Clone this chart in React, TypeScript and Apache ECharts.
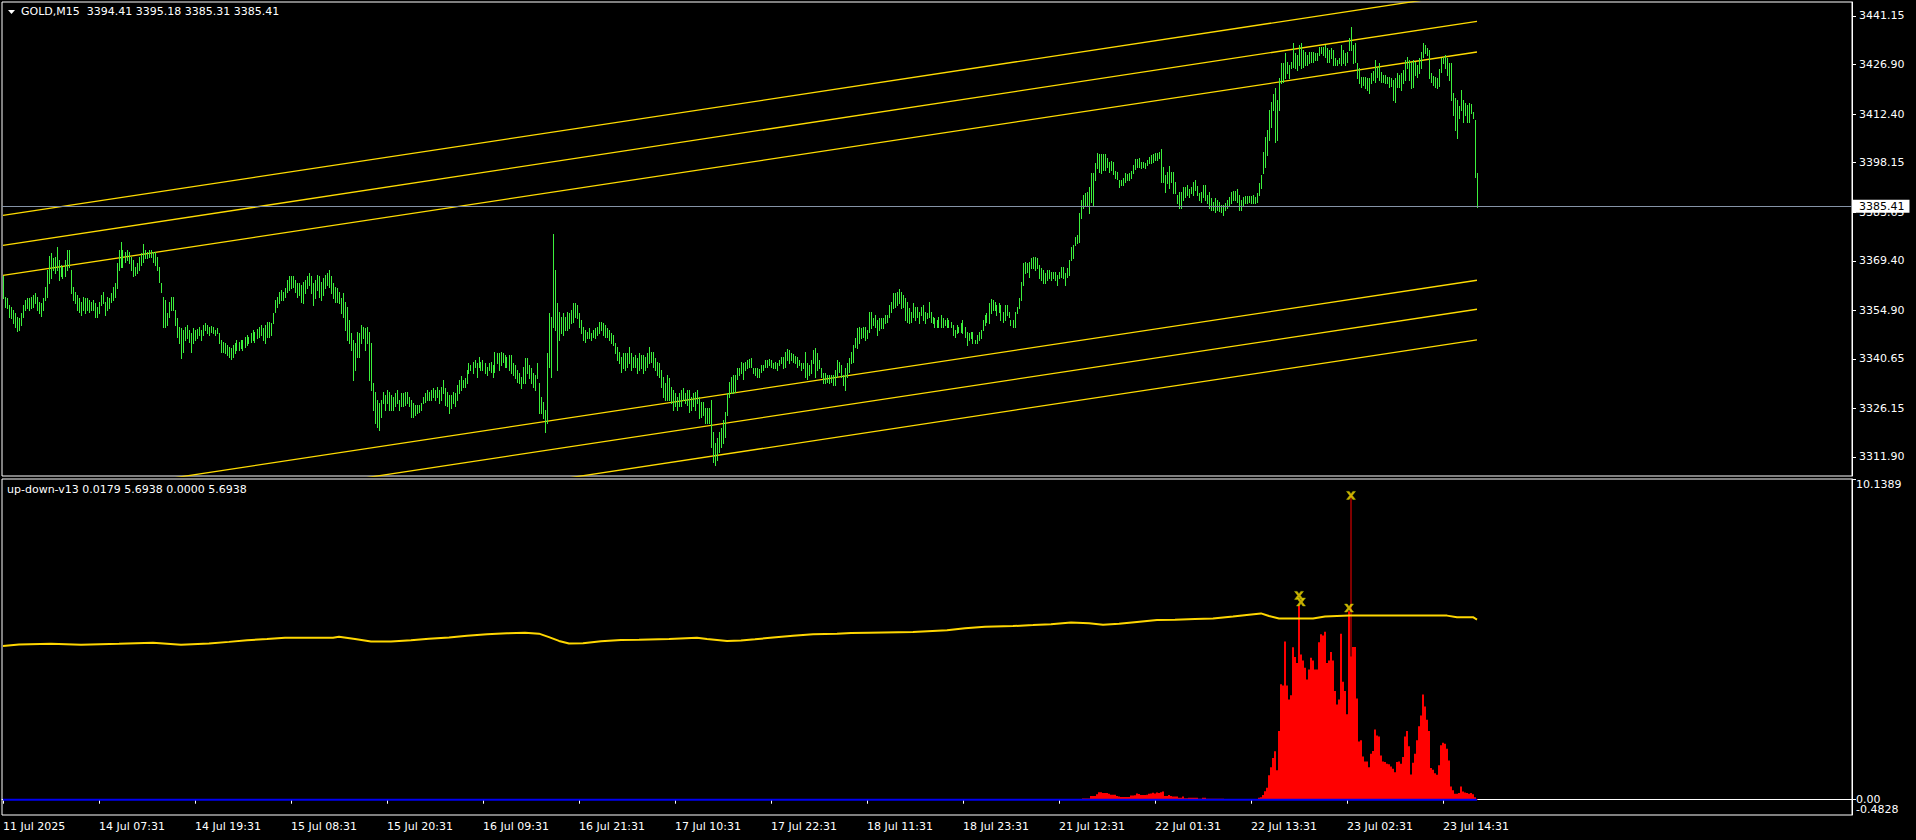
import React, { useEffect, useRef } from 'react';
import * as echarts from 'echarts';

// ---------- header texts ----------
const symbolName = 'GOLD,M15';
const ohlcLast = [3394.41, 3395.18, 3385.31, 3385.41];
const indicatorName = 'up-down-v13';
const indicatorLast = [0.0179, 5.6938, 0.0, 5.6938];

// ---------- time axis ----------
const timeLabels = [
  '11 Jul 2025', '14 Jul 07:31', '14 Jul 19:31', '15 Jul 08:31', '15 Jul 20:31', '16 Jul 09:31',
  '16 Jul 21:31', '17 Jul 10:31', '17 Jul 22:31', '18 Jul 11:31', '18 Jul 23:31', '21 Jul 12:31',
  '22 Jul 01:31', '22 Jul 13:31', '23 Jul 02:31', '23 Jul 14:31',
];
const labelStep = 48; // bars between time labels (M15)
const totalSlots = 925; // bar slots incl. chart shift on the right

// ---------- price bars (M15), high / low ----------
const barHigh = [
  3364.9, 3358.9, 3358.4, 3356.5, 3356.0, 3355.0, 3354.0, 3353.0, 3352.5, 3354.0, 3356.5, 3357.9, 3358.4, 3358.4, 3358.9, 3359.4, 3359.9,
  3358.9, 3357.4, 3356.9, 3358.4, 3361.8, 3366.7, 3370.8, 3371.6, 3370.1, 3370.6, 3373.5, 3369.6, 3368.2, 3367.7, 3369.6, 3372.6, 3372.6,
  3366.7, 3361.8, 3360.4, 3359.4, 3358.4, 3357.4, 3358.9, 3358.4, 3358.4, 3357.9, 3357.4, 3357.9, 3356.9, 3356.0, 3357.4, 3359.4, 3360.4,
  3357.4, 3358.9, 3358.4, 3359.9, 3361.8, 3362.8, 3368.7, 3372.6, 3375.0, 3372.6, 3372.1, 3372.6, 3372.1, 3370.6, 3369.6, 3367.7, 3368.7,
  3370.6, 3371.6, 3374.3, 3372.6, 3372.1, 3372.6, 3372.6, 3372.1, 3372.1, 3370.6, 3367.7, 3362.8, 3358.9, 3357.9, 3354.0, 3357.4, 3358.9,
  3358.9, 3355.0, 3352.5, 3350.1, 3349.6, 3349.1, 3350.1, 3350.6, 3349.1, 3348.2, 3349.6, 3349.1, 3349.3, 3350.1, 3349.1, 3350.6, 3351.1,
  3350.6, 3350.1, 3350.3, 3350.1, 3349.1, 3349.6, 3348.2, 3346.2, 3345.7, 3345.2, 3344.7, 3344.2, 3343.7, 3344.7, 3345.2, 3346.2, 3345.7,
  3346.2, 3346.2, 3347.2, 3347.7, 3347.2, 3348.2, 3349.1, 3348.6, 3349.3, 3350.1, 3350.6, 3349.6, 3350.6, 3351.6, 3351.6, 3351.1, 3354.0,
  3357.9, 3358.9, 3360.4, 3360.9, 3360.4, 3361.3, 3363.8, 3364.8, 3364.8, 3364.8, 3363.8, 3362.8, 3362.8, 3362.3, 3363.3, 3363.8, 3364.8,
  3365.7, 3364.8, 3362.8, 3363.8, 3365.2, 3364.8, 3363.3, 3364.3, 3365.2, 3365.7, 3366.7, 3364.8, 3362.8, 3361.8, 3361.3, 3360.4, 3358.4,
  3359.9, 3357.4, 3356.0, 3352.1, 3348.2, 3346.2, 3345.2, 3348.6, 3348.2, 3350.6, 3350.1, 3349.6, 3350.1, 3348.6, 3345.2, 3333.5, 3331.0, 3328.6, 3327.6, 3328.6,
  3331.0, 3330.1, 3331.5, 3331.0, 3330.1, 3329.6, 3330.6, 3331.5, 3328.6, 3330.6, 3330.6, 3331.0, 3331.0, 3329.6,
  3328.6, 3327.6, 3327.2, 3327.2, 3327.2, 3327.6, 3329.6, 3330.6, 3331.5, 3331.0, 3331.5, 3332.0, 3331.5, 3332.5, 3331.5, 3332.5, 3334.5,
  3332.0, 3331.0, 3330.1, 3330.1, 3331.0, 3330.6, 3333.0, 3334.5, 3335.5, 3334.5, 3335.0, 3337.4, 3339.4, 3338.9, 3339.8, 3340.3, 3339.4,
  3341.3, 3339.8, 3340.3, 3339.4, 3338.4, 3339.4, 3339.8, 3338.9, 3342.8, 3342.3, 3342.3, 3342.8, 3342.3, 3341.8, 3341.3, 3341.8, 3341.8,
  3339.4, 3338.9, 3337.4, 3336.4, 3335.4, 3338.4, 3340.8, 3340.8, 3338.9, 3337.9, 3336.4, 3335.9, 3339.4, 3333.5, 3329.6, 3328.1,
  3325.7, 3342.3, 3354.0, 3353.0, 3377.4, 3366.7, 3356.9, 3354.5, 3353.0, 3354.0, 3353.0, 3354.5, 3354.0, 3355.0, 3356.9, 3356.9, 3356.5, 3354.0,
  3352.1, 3350.1, 3349.1, 3348.6, 3349.6, 3348.2, 3349.1, 3349.6, 3350.1, 3351.6, 3351.6, 3351.1, 3350.6, 3349.6, 3349.1, 3348.2, 3347.7,
  3345.2, 3344.2, 3342.8, 3341.3, 3342.3, 3342.3, 3342.3, 3344.2, 3342.3, 3341.3, 3341.8, 3340.8, 3342.3, 3341.8, 3341.8, 3341.3, 3342.3,
  3344.2, 3342.8, 3342.8, 3340.8, 3339.8, 3339.4, 3337.4, 3335.4, 3333.5, 3335.9, 3335.0, 3332.5, 3331.5, 3330.6, 3329.6, 3330.6, 3331.5,
  3332.0, 3330.6, 3331.5, 3331.5, 3329.6, 3330.6, 3331.0, 3331.5,
  3329.6, 3328.1, 3328.1, 3326.2, 3326.2, 3326.2, 3328.6, 3319.3, 3315.9, 3317.4,
  3319.3, 3320.3, 3322.7, 3325.2, 3330.6, 3334.0, 3335.4, 3335.9, 3335.9, 3337.9,
  3337.9, 3339.8, 3339.4, 3339.8, 3340.3, 3340.5, 3340.8, 3337.9, 3337.9, 3337.9,
  3337.6, 3338.9, 3338.9, 3340.3, 3340.3, 3340.5, 3340.3, 3339.4, 3339.8, 3339.4,
  3340.3, 3341.3, 3341.3, 3342.8, 3343.5, 3343.3, 3342.3, 3342.1, 3341.5, 3341.3,
  3340.3, 3339.5, 3339.4, 3342.8, 3339.4, 3338.9, 3340.3, 3343.3, 3343.7, 3342.3,
  3340.3, 3337.9, 3336.4, 3336.4, 3335.9, 3335.9, 3335.9, 3335.9, 3337.4, 3340.3,
  3339.8, 3338.9, 3335.9, 3337.9, 3339.4, 3340.8, 3342.8, 3344.7, 3346.7, 3349.6,
  3350.1, 3349.6, 3350.1, 3350.1, 3349.1, 3354.5, 3354.5, 3352.5, 3353.5, 3352.1,
  3352.5, 3352.5, 3352.5, 3353.5, 3353.5, 3356.5, 3357.4, 3359.9, 3359.9, 3360.4,
  3361.0, 3360.4, 3359.4, 3358.4, 3357.4, 3355.5, 3354.5, 3356.9, 3356.0, 3356.0,
  3354.5, 3356.0, 3356.5, 3354.5, 3354.0, 3357.4, 3354.5, 3353.0, 3352.5, 3352.1,
  3353.0, 3353.5, 3352.5, 3352.1, 3352.5, 3352.1, 3351.6, 3350.6, 3349.1, 3350.6,
  3350.1, 3351.1, 3352.1, 3350.1, 3348.6, 3348.2, 3348.6, 3348.6, 3346.2, 3347.7,
  3348.6, 3349.1, 3352.1, 3353.5, 3354.0, 3356.9, 3358.1, 3357.9, 3357.4, 3356.5,
  3356.9, 3356.5, 3354.5, 3356.5, 3356.5, 3354.5, 3352.1, 3352.1, 3354.5, 3356.0,
  3358.4, 3363.3, 3368.7, 3369.1, 3368.7, 3369.1, 3370.1, 3370.6, 3370.6, 3370.1,
  3368.2, 3367.2, 3366.7, 3365.7, 3366.7, 3366.7, 3366.2, 3366.2, 3366.2, 3365.2,
  3366.2, 3367.7, 3367.7, 3365.7, 3367.2, 3369.6, 3373.5, 3374.0, 3376.5, 3377.0,
  3383.3, 3387.2, 3388.7, 3389.2, 3389.7, 3391.1, 3395.0, 3395.0, 3398.0, 3401.1,
  3400.7, 3400.7, 3400.7, 3400.7,
  3399.4, 3398.4, 3398.6, 3398.4, 3395.8, 3395.5, 3393.1, 3393.1, 3393.6, 3395.0,
  3394.8, 3395.0, 3395.8, 3397.5, 3399.3, 3399.2, 3399.4, 3398.4, 3398.4, 3398.2,
  3398.9, 3399.9, 3400.4, 3400.7, 3400.9, 3400.9, 3401.4, 3402.1, 3397.0, 3394.5,
  3395.5, 3397.2, 3395.5, 3395.4, 3392.6, 3388.7, 3389.7, 3389.7, 3391.1, 3391.1,
  3391.6, 3390.3, 3391.1, 3392.6, 3393.1, 3391.3, 3389.4, 3389.7, 3391.6, 3391.6,
  3388.7, 3389.7, 3387.7, 3386.7, 3387.7, 3387.2, 3386.7, 3385.8, 3385.8, 3386.2,
  3387.2, 3388.2, 3389.7, 3389.9, 3389.9, 3390.3, 3388.7, 3387.2, 3388.2, 3388.4,
  3388.4, 3388.4, 3388.4, 3388.7, 3388.2, 3389.4, 3392.3, 3394.5, 3401.4, 3405.8,
  3407.7, 3413.6, 3416.0, 3418.3, 3419.9, 3416.5, 3422.9, 3427.3, 3427.3, 3430.2,
  3427.8, 3426.8, 3427.8, 3433.1, 3430.2, 3429.7, 3432.6, 3433.1, 3431.2, 3430.7,
  3429.7, 3430.7, 3430.7, 3430.7, 3430.2, 3430.2, 3432.2, 3432.2, 3432.2, 3432.6,
  3431.7, 3431.2, 3431.7, 3431.2, 3428.7, 3428.3, 3428.7, 3432.6, 3431.2, 3430.2,
  3430.7, 3434.6, 3438.0, 3432.6, 3433.1, 3427.3, 3425.8, 3423.4, 3423.4, 3423.4,
  3422.9, 3422.9, 3424.4, 3425.1, 3428.3, 3426.3, 3427.3, 3424.8, 3423.9, 3423.9,
  3423.4, 3423.4, 3422.9, 3422.4, 3422.9, 3424.4, 3423.9, 3424.4, 3425.3, 3428.3,
  3429.2, 3428.3, 3427.8, 3428.3, 3427.8, 3426.8, 3428.7, 3430.7, 3433.3, 3432.6,
  3431.7, 3431.2, 3424.4, 3423.6, 3423.2, 3422.9, 3425.5, 3428.7, 3429.2, 3429.7,
  3428.7, 3427.3, 3427.3, 3418.5, 3417.0, 3416.5, 3414.8, 3419.5, 3416.5, 3415.6,
  3415.1, 3415.6, 3415.4, 3413.1, 3410.7, 3395.18,
];
const barLow = [
  3358.6, 3356.0, 3355.5, 3353.0, 3352.5, 3351.1, 3350.1, 3348.8, 3349.1, 3350.6, 3353.0, 3355.0, 3355.5, 3355.0, 3355.5, 3356.0, 3356.9,
  3355.0, 3354.0, 3353.2, 3355.0, 3357.9, 3358.9, 3362.8, 3364.3, 3366.7, 3365.7, 3366.7, 3363.8, 3364.8, 3364.3, 3364.8, 3366.7, 3367.7,
  3359.9, 3357.9, 3356.9, 3355.0, 3354.5, 3353.5, 3355.0, 3354.0, 3355.0, 3354.5, 3355.0, 3355.0, 3353.0, 3353.0, 3354.0, 3356.5, 3356.9,
  3353.5, 3355.0, 3355.5, 3357.4, 3357.9, 3358.9, 3361.3, 3366.7, 3367.7, 3367.7, 3369.1, 3369.6, 3368.7, 3366.7, 3364.8, 3365.2, 3365.7,
  3366.7, 3368.2, 3369.1, 3370.1, 3370.1, 3370.6, 3370.6, 3369.1, 3368.2, 3366.7, 3363.3, 3360.4, 3350.1, 3350.1, 3350.6, 3353.0, 3355.0,
  3355.0, 3350.6, 3347.2, 3345.2, 3340.8, 3342.8, 3346.2, 3346.7, 3345.7, 3342.8, 3345.2, 3346.2, 3346.7, 3347.7, 3346.2, 3347.7, 3349.1,
  3348.2, 3347.7, 3348.6, 3348.2, 3347.7, 3348.2, 3345.2, 3342.8, 3342.8, 3342.3, 3341.8, 3341.3, 3340.5, 3341.3, 3342.3, 3343.3, 3343.3,
  3343.8, 3343.3, 3344.2, 3344.7, 3345.2, 3345.7, 3346.2, 3345.7, 3346.7, 3347.2, 3347.7, 3346.2, 3345.2, 3347.2, 3347.2, 3347.7, 3351.1,
  3354.5, 3356.0, 3356.9, 3357.9, 3357.9, 3358.9, 3360.4, 3360.9, 3361.3, 3361.8, 3360.4, 3358.9, 3359.4, 3357.4, 3356.9, 3359.9, 3361.3,
  3362.3, 3359.9, 3356.5, 3358.4, 3360.9, 3358.9, 3357.9, 3359.4, 3361.3, 3362.3, 3361.8, 3359.9, 3358.4, 3357.4, 3357.4, 3356.9, 3354.0,
  3353.0, 3349.1, 3346.2, 3345.2, 3343.3, 3334.5, 3337.4, 3341.3, 3341.3, 3345.2, 3346.7, 3343.3, 3345.2, 3334.5, 3331.5, 3325.7, 3321.8, 3320.8, 3319.8, 3323.7,
  3327.6, 3325.7, 3327.6, 3325.7, 3325.7, 3325.7, 3326.7, 3327.6, 3325.7, 3326.7, 3326.7, 3327.2, 3327.6, 3326.7,
  3323.7, 3323.7, 3324.2, 3324.7, 3325.2, 3325.7, 3327.6, 3328.1, 3328.6, 3328.6, 3328.6, 3329.6, 3328.6, 3329.6, 3327.6, 3328.6, 3330.6,
  3327.2, 3326.7, 3324.7, 3326.2, 3327.6, 3326.7, 3328.6, 3330.6, 3331.5, 3332.5, 3332.5, 3333.5, 3336.4, 3337.4, 3336.4, 3338.4, 3335.4,
  3338.4, 3337.4, 3337.4, 3336.4, 3335.9, 3337.4, 3336.9, 3335.4, 3336.9, 3339.4, 3337.4, 3338.9, 3339.8, 3338.4, 3338.4, 3337.4, 3336.4,
  3335.9, 3335.0, 3334.0, 3333.5, 3332.0, 3333.5, 3333.5, 3336.4, 3335.0, 3333.5, 3332.5, 3331.5, 3335.0, 3324.7, 3324.7, 3323.2,
  3319.3, 3321.8, 3338.4, 3335.4, 3350.1, 3349.1, 3337.4, 3346.2, 3348.2, 3347.7, 3349.1, 3349.1, 3349.6, 3351.1, 3351.6, 3353.0, 3352.5, 3350.1,
  3348.2, 3346.2, 3345.7, 3346.7, 3346.7, 3346.2, 3347.2, 3346.7, 3347.7, 3348.2, 3349.1, 3347.7, 3347.2, 3347.2, 3346.2, 3345.2, 3344.7,
  3342.3, 3340.3, 3339.4, 3336.9, 3337.9, 3337.4, 3338.4, 3339.4, 3337.4, 3338.4, 3338.4, 3336.4, 3337.4, 3337.9, 3336.4, 3337.4, 3338.4,
  3339.4, 3339.8, 3338.4, 3337.4, 3335.9, 3335.4, 3332.5, 3329.6, 3328.6, 3328.6, 3328.6, 3327.6, 3325.7, 3326.7, 3325.7, 3326.7, 3326.7,
  3328.6, 3327.6, 3327.2, 3325.2, 3325.7, 3326.7, 3325.7, 3327.6,
  3323.2, 3323.7, 3324.2, 3321.8, 3321.8, 3321.8, 3314.9, 3310.5, 3309.6, 3311.0,
  3313.5, 3314.9, 3315.9, 3317.9, 3324.2, 3329.6, 3330.6, 3330.6, 3331.0, 3334.9,
  3335.9, 3336.4, 3334.9, 3337.4, 3337.9, 3338.2, 3338.4, 3336.4, 3335.9, 3335.4,
  3335.4, 3336.9, 3337.4, 3338.4, 3338.4, 3338.9, 3338.4, 3337.9, 3337.9, 3337.4,
  3338.9, 3339.4, 3337.9, 3338.4, 3340.3, 3339.4, 3340.3, 3339.8, 3339.4, 3338.4,
  3338.9, 3337.4, 3337.9, 3335.4, 3334.9, 3335.9, 3336.4, 3339.4, 3335.4, 3337.4,
  3337.9, 3335.4, 3333.5, 3333.5, 3334.0, 3333.5, 3334.0, 3333.0, 3333.0, 3335.4,
  3336.9, 3335.4, 3333.0, 3331.5, 3335.4, 3336.9, 3339.4, 3339.8, 3344.2, 3343.7,
  3345.2, 3346.7, 3347.2, 3346.2, 3346.7, 3348.6, 3349.6, 3350.6, 3350.1, 3347.7,
  3349.1, 3349.6, 3349.6, 3351.1, 3351.6, 3353.0, 3354.5, 3355.5, 3356.0, 3356.5,
  3356.9, 3355.5, 3356.0, 3352.1, 3351.6, 3351.1, 3351.6, 3353.0, 3352.1, 3353.0,
  3351.1, 3353.5, 3352.1, 3351.1, 3352.5, 3353.0, 3351.6, 3351.1, 3350.1, 3350.1,
  3350.1, 3350.1, 3350.1, 3350.6, 3350.1, 3350.1, 3350.1, 3347.7, 3347.2, 3348.2,
  3348.6, 3348.6, 3348.2, 3347.2, 3344.7, 3346.2, 3346.7, 3345.2, 3345.2, 3345.2,
  3346.2, 3346.7, 3349.1, 3350.6, 3351.6, 3351.1, 3354.0, 3355.0, 3355.0, 3353.5,
  3354.5, 3352.1, 3351.6, 3352.1, 3353.5, 3353.0, 3350.6, 3350.1, 3350.1, 3354.0,
  3355.5, 3357.9, 3362.3, 3365.7, 3366.2, 3364.7, 3367.2, 3367.2, 3366.7, 3367.2,
  3364.3, 3363.8, 3362.8, 3362.8, 3363.8, 3364.3, 3363.8, 3364.3, 3363.8, 3362.3,
  3364.3, 3364.7, 3364.3, 3362.3, 3364.7, 3365.2, 3369.6, 3370.1, 3374.0, 3374.5,
  3375.0, 3381.9, 3384.8, 3385.7, 3385.7, 3383.3, 3386.7, 3385.7, 3393.1, 3396.5,
  3395.5, 3395.0, 3396.0, 3396.0,
  3397.0, 3395.5, 3396.0, 3394.8, 3393.6, 3393.3, 3391.1, 3391.6, 3391.6, 3392.6,
  3393.1, 3393.1, 3393.6, 3395.0, 3396.2, 3397.0, 3397.0, 3396.5, 3397.0, 3396.5,
  3397.5, 3398.0, 3398.2, 3398.4, 3398.9, 3398.9, 3399.4, 3392.6, 3392.6, 3389.7,
  3392.1, 3390.6, 3392.6, 3389.4, 3389.2, 3386.2, 3384.8, 3384.8, 3387.2, 3388.2,
  3388.7, 3388.2, 3389.2, 3388.7, 3390.1, 3388.7, 3387.2, 3386.7, 3388.2, 3387.2,
  3386.2, 3384.8, 3384.3, 3384.3, 3383.8, 3384.3, 3384.1, 3383.8, 3382.8, 3384.3,
  3384.8, 3385.8, 3386.2, 3387.2, 3387.2, 3386.7, 3384.3, 3384.3, 3385.8, 3386.2,
  3386.2, 3386.7, 3386.2, 3386.2, 3386.2, 3386.7, 3388.7, 3390.6, 3395.0, 3397.0,
  3400.4, 3404.8, 3408.7, 3413.6, 3404.3, 3404.8, 3413.6, 3421.4, 3421.9, 3422.9,
  3424.4, 3422.9, 3425.8, 3426.3, 3425.8, 3425.3, 3426.8, 3425.8, 3426.3, 3426.8,
  3426.8, 3427.3, 3427.8, 3427.8, 3428.3, 3428.3, 3429.7, 3430.2, 3429.7, 3429.2,
  3427.8, 3427.8, 3428.7, 3426.8, 3426.8, 3426.8, 3427.3, 3426.8, 3427.3, 3426.8,
  3427.8, 3431.2, 3431.2, 3427.3, 3427.8, 3422.9, 3421.4, 3420.4, 3420.9, 3419.9,
  3419.5, 3418.5, 3421.4, 3422.4, 3421.9, 3423.4, 3422.4, 3421.9, 3421.9, 3421.4,
  3421.4, 3420.4, 3420.6, 3416.5, 3416.0, 3420.4, 3420.4, 3419.5, 3421.4, 3422.4,
  3425.8, 3422.4, 3419.9, 3420.2, 3423.9, 3423.4, 3424.4, 3425.8, 3429.2, 3430.2,
  3429.7, 3422.9, 3421.9, 3420.9, 3420.4, 3419.9, 3420.6, 3424.8, 3427.3, 3425.8,
  3423.9, 3422.4, 3416.5, 3412.1, 3407.7, 3405.3, 3411.2, 3413.6, 3410.2, 3412.1,
  3410.2, 3410.2, 3412.6, 3411.2, 3394.1, 3385.31,
];

// ---------- price scale ----------
const priceTicks = [3441.15, 3426.9, 3412.4, 3398.15, 3383.65, 3369.4, 3354.9, 3340.65, 3326.15, 3311.9];
const priceMin = 3306.33;
const priceMax = 3445.25;
const bidPrice = 3385.41;

// channel lines: [startBar, startPrice, endBar, endPrice]
const channelLines = [
  [0, 3382.7, 737, 3448.2],
  [0, 3373.9, 737, 3439.6],
  [0, 3365.1, 737, 3430.6],
  [0, 3298.2, 737, 3363.7],
  [0, 3289.7, 737, 3355.2],
  [0, 3280.6, 737, 3346.2],
];

// ---------- indicator window ----------
const oscMin = -0.4828;
const oscMax = 10.1389;
const oscTicks = [0, 10.1389];
const zeroLine = [[0, 0], [737, 0]];
const yellowLine = [
  [0, 4.86], [8, 4.91], [24, 4.93], [39, 4.9], [58, 4.93], [75, 4.96], [89, 4.9], [103, 4.94], [113, 4.99],
  [122, 5.04], [132, 5.08], [141, 5.12], [165, 5.12], [168, 5.15], [176, 5.08], [184, 5.0], [194, 5.0],
  [204, 5.04], [213, 5.09], [223, 5.13], [232, 5.18], [242, 5.23], [252, 5.26], [261, 5.28], [268, 5.25],
  [273, 5.14], [278, 5.02], [283, 4.94], [290, 4.95], [299, 5.01], [309, 5.05], [318, 5.06], [333, 5.08],
  [347, 5.12], [352, 5.08], [362, 5.02], [369, 5.03], [376, 5.07], [385, 5.13], [395, 5.18], [405, 5.23],
  [417, 5.25], [424, 5.27], [433, 5.28], [455, 5.3], [472, 5.36], [481, 5.42], [491, 5.47], [505, 5.49],
  [515, 5.52], [524, 5.55], [534, 5.6], [543, 5.58], [550, 5.53], [558, 5.56], [567, 5.62], [577, 5.68],
  [586, 5.69], [596, 5.71], [605, 5.73], [615, 5.79], [623, 5.85], [629, 5.89], [633, 5.81], [638, 5.73],
  [655, 5.73], [661, 5.79], [673, 5.82], [722, 5.82], [727, 5.77], [735, 5.77], [737, 5.6938],
];
const histStart = 540;
const histValues = [
  0.04, 0.04, 0.04, 0.04, 0.12, 0.12, 0.12, 0.17, 0.24, 0.24,
  0.21, 0.21, 0.21, 0.19, 0.16, 0.16, 0.16, 0.12, 0.1, 0.09,
  0.09, 0.09, 0.09, 0.09, 0.13, 0.13, 0.14, 0.2, 0.18, 0.15,
  0.15, 0.15, 0.16, 0.19, 0.2, 0.22, 0.2, 0.23, 0.21, 0.24,
  0.26, 0.12, 0.12, 0.15, 0.12, 0.1, 0.1, 0.1, 0.06, 0.06,
  0.1, 0.05, 0.05, 0.06, 0.06, 0.06, 0.06, 0.06, 0.03, 0.03,
  0.06, 0.06, 0.03, 0.03, 0.03, 0.03, 0.03, 0.03, 0.03, 0.03,
  0.03, 0, 0.02, 0.02, 0.02, 0.02, 0.02, 0.02, 0.02, 0.02,
  0.02, 0.02, 0.02, 0.02, 0.02, 0.02, 0.02, 0.02, 0.06, 0.08,
  0.15, 0.27, 0.38, 0.77, 1.03, 1.32, 1.53, 0.93, 2.17, 3.65,
  3.61, 5.0, 3.61, 3.17, 3.3, 4.82, 4.51, 4.32, 6.14, 4.59,
  4.4, 4.17, 3.8, 4.12, 4.49, 4.4, 4.12, 4.12, 4.98, 5.23,
  5.19, 5.31, 4.32, 4.4, 4.67, 4.4, 3.44, 3.01, 3.17, 5.25,
  3.73, 3.44, 2.7, 5.96, 4.53, 4.83, 4.83, 3.2, 1.84, 1.88,
  1.37, 1.21, 1.21, 1.03, 1.45, 1.54, 2.22, 2.03, 2.0, 1.4,
  1.21, 1.19, 1.14, 1.12, 1.05, 0.98, 0.87, 1.19, 1.21, 1.14,
  1.35, 2.0, 2.17, 1.69, 0.8, 1.17, 1.45, 1.88, 2.32, 2.66,
  3.33, 2.95, 2.53, 2.17, 1.0, 0.95, 0.84, 0.79, 1.09, 1.72,
  1.8, 1.77, 1.61, 1.24, 0.42, 0.3, 0.19, 0.19, 0.21, 0.42,
  0.26, 0.23, 0.21, 0.19, 0.21, 0.17, 0.08, 0.0179,
];
const spikeLine = [[674, 0], [674, 9.62]];
const markerPoints = [[648, 6.46], [649, 6.25], [673, 6.06], [674, 9.62]];

// ---------- styles ----------
const FONT = "'DejaVu Sans', sans-serif";
const BAR_GREEN = '#3cf03c';
const GOLD = '#ffd700';
const CHANNEL = '#ffdc00';

export default function App() {
  const ref = useRef<HTMLDivElement>(null);

  useEffect(() => {
    if (!ref.current) return;
    const chart = echarts.init(ref.current, null, { renderer: 'svg' });
    const cats = Array.from({ length: totalSlots }, (_, i) => String(i));
    const showLabel = (i: number) => i % labelStep === 0 && i / labelStep < timeLabels.length;
    const priceData = barHigh.map((h, i) => [i, h, barLow[i]]);
    const histData = histValues.map((v, k) => [histStart + k, v]);

    const channelSeries = channelLines.map((c, k) => {
      const s: any = {
        type: 'line',
        xAxisIndex: 0,
        yAxisIndex: 0,
        data: [[c[0], c[1]], [c[2], c[3]]],
        showSymbol: false,
        symbol: 'none',
        clip: true,
        silent: true,
        lineStyle: { color: CHANNEL, width: 1.3 },
        z: 3,
      };
      if (k === 0) {
        s.markLine = {
          silent: true,
          symbol: ['none', 'none'],
          lineStyle: { color: '#8593a6', width: 1, type: 'solid' },
          label: {
            position: 'end',
            formatter: bidPrice.toFixed(2),
            backgroundColor: '#ffffff',
            color: '#000000',
            padding: [1, 5, 1, 6],
            distance: 1,
            fontFamily: FONT,
            fontSize: 11,
          },
          data: [{ yAxis: bidPrice }],
        };
      }
      return s;
    });

    const labelStyle = { color: '#ffffff', fontFamily: FONT, fontSize: 11 };

    const option: any = {
      animation: false,
      backgroundColor: '#000000',
      title: [
        {
          text: `${symbolName}\u00a0\u00a0${ohlcLast.map((v) => v.toFixed(2)).join(' ')}`,
          left: 21,
          top: 6,
          padding: 0,
          textStyle: { ...labelStyle, fontWeight: 'normal' },
        },
        {
          text: `${indicatorName} ${indicatorLast.map((v) => v.toFixed(4)).join(' ')}`,
          left: 7,
          top: 484,
          padding: 0,
          textStyle: { ...labelStyle, fontWeight: 'normal' },
        },
      ],
      graphic: [
        {
          type: 'polygon',
          shape: { points: [[8, 10], [15, 10], [11.5, 14]] },
          style: { fill: '#ffffff' },
        },
      ],
      grid: [
        { left: 2, top: 2, width: 1850, height: 474, show: true, borderColor: '#ffffff', borderWidth: 1, backgroundColor: 'transparent' },
        { left: 2, top: 479, width: 1850, height: 336, show: true, borderColor: '#ffffff', borderWidth: 1, backgroundColor: 'transparent' },
      ],
      xAxis: [
        { type: 'category', gridIndex: 0, data: cats, show: false },
        {
          type: 'category',
          gridIndex: 1,
          data: cats,
          axisLine: { show: true, lineStyle: { color: '#ffffff', width: 1 } },
          axisTick: { show: true, interval: showLabel, alignWithLabel: true, length: 4, lineStyle: { color: '#ffffff' } },
          axisLabel: {
            ...labelStyle,
            interval: showLabel,
            align: 'left',
            margin: 6,
            formatter: (_v: string, i: number) => timeLabels[Math.round(i / labelStep)] ?? '',
          },
          splitLine: { show: false },
        },
      ],
      yAxis: [
        {
          type: 'value',
          gridIndex: 0,
          position: 'right',
          min: priceMin,
          max: priceMax,
          axisLine: { show: true, lineStyle: { color: '#ffffff' } },
          axisTick: { show: true, length: 4, customValues: priceTicks, lineStyle: { color: '#ffffff' } },
          axisLabel: { ...labelStyle, margin: 7, customValues: priceTicks, formatter: (v: number) => v.toFixed(2) },
          splitLine: { show: false },
        },
        {
          type: 'value',
          gridIndex: 1,
          position: 'right',
          min: oscMin,
          max: oscMax,
          axisLine: { show: true, lineStyle: { color: '#ffffff' } },
          axisTick: { show: true, length: 4, customValues: oscTicks, lineStyle: { color: '#ffffff' } },
          axisLabel: {
            ...labelStyle,
            margin: 4,
            customValues: oscTicks,
            showMinLabel: true,
            showMaxLabel: true,
            verticalAlignMaxLabel: 'top',
            formatter: (v: number) => (v === 0 ? '0.00' : v.toFixed(4)),
          },
          splitLine: { show: false },
        },
        {
          type: 'value',
          gridIndex: 1,
          position: 'right',
          min: oscMin,
          max: oscMax,
          axisLine: { show: false },
          axisTick: { show: false },
          axisLabel: {
            ...labelStyle,
            margin: 4,
            customValues: [oscMin],
            showMinLabel: true,
            verticalAlignMinLabel: 'bottom',
            formatter: (v: number) => v.toFixed(4),
          },
          splitLine: { show: false },
        },
      ],
      series: [
        {
          type: 'custom',
          xAxisIndex: 0,
          yAxisIndex: 0,
          data: priceData,
          encode: { x: 0, y: [1, 2] },
          silent: true,
          z: 4,
          renderItem: (_params: any, api: any) => {
            const idx = api.value(0);
            const top = api.coord([idx, api.value(1)]);
            const bot = api.coord([idx, api.value(2)]);
            const x = Math.floor(top[0]) + 0.5;
            const y1 = Math.round(top[1]);
            let y2 = Math.round(bot[1]) + 1;
            if (y2 - y1 < 1) y2 = y1 + 1;
            return {
              type: 'line',
              shape: { x1: x, y1, x2: x, y2 },
              style: { stroke: BAR_GREEN, lineWidth: 1 },
            };
          },
        },
        ...channelSeries,
        {
          type: 'bar',
          xAxisIndex: 1,
          yAxisIndex: 1,
          data: histData,
          barWidth: 2,
          silent: true,
          itemStyle: { color: '#ff0000' },
          z: 2,
        },
        {
          type: 'line',
          xAxisIndex: 1,
          yAxisIndex: 1,
          data: spikeLine,
          showSymbol: false,
          symbol: 'none',
          silent: true,
          lineStyle: { color: '#ff0000', width: 1 },
          z: 3,
        },
        {
          type: 'line',
          xAxisIndex: 1,
          yAxisIndex: 1,
          data: zeroLine,
          showSymbol: false,
          symbol: 'none',
          silent: true,
          lineStyle: { color: '#0000f0', width: 2 },
          z: 4,
        },
        {
          type: 'line',
          xAxisIndex: 1,
          yAxisIndex: 1,
          data: yellowLine,
          showSymbol: false,
          symbol: 'none',
          silent: true,
          lineStyle: { color: GOLD, width: 2 },
          z: 5,
        },
        {
          type: 'scatter',
          xAxisIndex: 1,
          yAxisIndex: 1,
          data: markerPoints,
          symbol: 'path://M0,0L3,0L5,2.5L7,0L10,0L6.5,4L10,8L7,8L5,5.5L3,8L0,8L3.5,4Z',
          symbolSize: [9, 8],
          silent: true,
          itemStyle: { color: GOLD, borderColor: '#b8d000', borderWidth: 0.5 },
          z: 6,
        },
      ],
    };

    chart.setOption(option);
    return () => chart.dispose();
  }, []);

  return (
    <div
      ref={ref}
      style={{ position: 'fixed', left: 0, top: 0, width: 1916, height: 840, background: '#000000' }}
    />
  );
}
